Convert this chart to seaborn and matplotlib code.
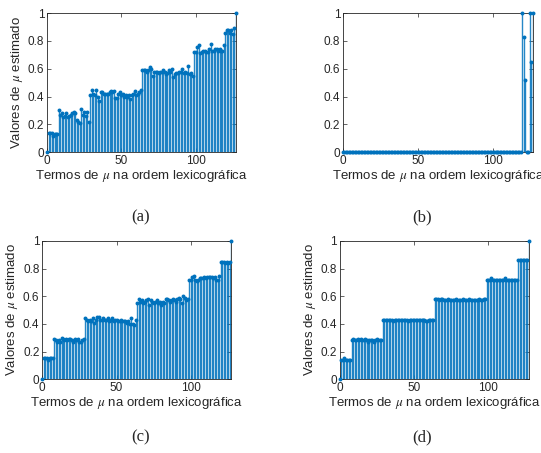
import numpy as np
import matplotlib
matplotlib.use("Agg")
import matplotlib.pyplot as plt
import seaborn as sns

# estimated mu values, 128 terms in lexicographic order
est_a = ([0.0]
         + [0.14, 0.14, 0.14, 0.12, 0.13, 0.13, 0.13]
         + [0.30, 0.27, 0.28, 0.25, 0.26, 0.28, 0.25, 0.26, 0.27, 0.28,
            0.29, 0.28, 0.23, 0.22, 0.21, 0.31, 0.27, 0.29, 0.26, 0.29,
            0.22]
         + [0.41, 0.45, 0.42, 0.41, 0.45, 0.40, 0.37, 0.43, 0.43, 0.42,
            0.42, 0.42, 0.42, 0.43, 0.44, 0.43, 0.44, 0.39, 0.39, 0.42,
            0.43, 0.41, 0.42, 0.40, 0.41, 0.40, 0.41, 0.38, 0.41, 0.42,
            0.44, 0.41, 0.42, 0.43, 0.45]
         + [0.59, 0.59, 0.59, 0.58, 0.59, 0.61, 0.60, 0.55, 0.58, 0.58,
            0.58, 0.57, 0.58, 0.58, 0.59, 0.58, 0.56, 0.57, 0.59, 0.58,
            0.60, 0.54, 0.56, 0.57, 0.57, 0.58, 0.58, 0.60, 0.57, 0.58,
            0.57, 0.62, 0.56, 0.57, 0.55]
         + [0.72, 0.72, 0.76, 0.77, 0.71, 0.72, 0.73, 0.73, 0.72, 0.72,
            0.74, 0.78, 0.73, 0.73, 0.74, 0.74, 0.73, 0.74, 0.73, 0.73,
            0.77]
         + [0.86, 0.88, 0.88, 0.86, 0.88, 0.85, 0.89]
         + [1.0])

est_b = [0.0] * 120 + [1.0, 0.83, 0.52, 0.0, 0.0, 1.0, 0.65, 1.0]

est_c = ([0.0]
         + [0.15, 0.15, 0.15, 0.14, 0.15, 0.15, 0.15]
         + [0.29, 0.28, 0.27, 0.28, 0.27, 0.30, 0.29, 0.28, 0.29, 0.28,
            0.29, 0.29, 0.28, 0.27, 0.29, 0.28, 0.29, 0.27, 0.27, 0.28,
            0.29]
         + [0.44, 0.43, 0.42, 0.43, 0.42, 0.44, 0.41, 0.43, 0.45, 0.45,
            0.43, 0.43, 0.44, 0.43, 0.43, 0.44, 0.42, 0.43, 0.44, 0.42,
            0.43, 0.43, 0.42, 0.42, 0.43, 0.42, 0.42, 0.42, 0.41, 0.42,
            0.40, 0.44, 0.40, 0.39, 0.43]
         + [0.55, 0.58, 0.56, 0.57, 0.55, 0.56, 0.57, 0.58, 0.54, 0.57,
            0.56, 0.55, 0.56, 0.57, 0.55, 0.56, 0.54, 0.56, 0.55, 0.58,
            0.58, 0.57, 0.56, 0.57, 0.58, 0.57, 0.56, 0.58, 0.59, 0.58,
            0.55, 0.60, 0.59, 0.57, 0.58]
         + [0.72, 0.72, 0.74, 0.75, 0.72, 0.71, 0.72, 0.73, 0.73, 0.73,
            0.74, 0.73, 0.74, 0.74, 0.74, 0.74, 0.73, 0.74, 0.72, 0.72,
            0.75]
         + [0.85, 0.85, 0.85, 0.84, 0.85, 0.84, 0.85]
         + [1.0])

est_d = ([0.0]
         + [0.14, 0.14, 0.15, 0.14, 0.14, 0.14, 0.14]
         + [0.28, 0.29, 0.28, 0.28, 0.29, 0.28, 0.29, 0.28, 0.28, 0.29,
            0.28, 0.27, 0.28, 0.28, 0.28, 0.27, 0.28, 0.29, 0.28, 0.28,
            0.28]
         + [0.43, 0.43, 0.43, 0.43, 0.43, 0.43, 0.43, 0.42, 0.43, 0.43,
            0.43, 0.43, 0.43, 0.43, 0.43, 0.43, 0.43, 0.42, 0.43, 0.43,
            0.43, 0.43, 0.43, 0.43, 0.43, 0.43, 0.43, 0.43, 0.43, 0.42,
            0.42, 0.43, 0.43, 0.43, 0.43]
         + [0.58, 0.58, 0.58, 0.57, 0.58, 0.58, 0.57, 0.57, 0.57, 0.58,
            0.57, 0.57, 0.57, 0.57, 0.58, 0.57, 0.57, 0.57, 0.57, 0.58,
            0.57, 0.57, 0.57, 0.58, 0.57, 0.57, 0.57, 0.57, 0.57, 0.57,
            0.58, 0.57, 0.57, 0.58, 0.58]
         + [0.72, 0.72, 0.72, 0.73, 0.72, 0.72, 0.72, 0.72, 0.72, 0.72,
            0.72, 0.72, 0.73, 0.72, 0.72, 0.72, 0.72, 0.72, 0.72, 0.72,
            0.72]
         + [0.86, 0.86, 0.86, 0.86, 0.86, 0.86, 0.86]
         + [1.0])

panels = ["(a)", "(b)", "(c)", "(d)"]
xticks = [0, 50, 100]
yticks = [0, 0.2, 0.4, 0.6, 0.8, 1]
ytick_labels = ["0", "0.2", "0.4", "0.6", "0.8", "1"]

sns.set_theme(style="ticks")
plt.rcParams['font.family'] = ['Liberation Sans', 'DejaVu Sans']
plt.rcParams['mathtext.fontset'] = 'stix'

blue = '#0072BD'
axis_col = '#262626'

fig = plt.figure(figsize=(5.41, 4.53), dpi=100)
boxes = [
    [0.087, 0.664, 0.349, 0.307],
    [0.634, 0.664, 0.351, 0.307],
    [0.078, 0.163, 0.349, 0.305],
    [0.628, 0.163, 0.349, 0.305],
]
captions = [(0.26, 0.521), (0.78, 0.521), (0.26, 0.035), (0.78, 0.035)]


def stem_panel(ax, values, ylabel=True):
    x = np.arange(len(values))
    v = np.array(values)
    ax.vlines(x, 0, v, color=blue, linewidth=1.0, alpha=0.85)
    sns.scatterplot(x=x, y=v, ax=ax, color=blue, s=8, edgecolor=None,
                    linewidth=0, zorder=3, clip_on=False)
    ax.set_xlim(0, 127)
    ax.set_ylim(0, 1)
    ax.set_xticks(xticks)
    ax.set_yticks(yticks)
    ax.set_yticklabels(ytick_labels)
    ax.tick_params(direction='in', top=True, right=True, length=3, width=0.5,
                   labelsize=8.5, colors=axis_col, pad=2)
    for s in ax.spines.values():
        s.set_linewidth(0.6)
        s.set_color(axis_col)
    ax.set_xlabel('Termos de $\\mu$ na ordem lexicográfica', fontsize=9.5,
                  labelpad=1, color=axis_col)
    if ylabel:
        ax.set_ylabel('Valores de $\\mu$ estimado', fontsize=9.5, labelpad=2,
                      color=axis_col)
    else:
        ax.set_ylabel('')


for box, vals, lab, cap in zip(boxes, [est_a, est_b, est_c, est_d], panels, captions):
    ax = fig.add_axes(box)
    stem_panel(ax, vals, ylabel=(lab != "(b)"))
    fig.text(cap[0], cap[1], lab, family='Liberation Serif', fontsize=12,
             ha='center', va='center')

fig.savefig('out.png', dpi=100)
